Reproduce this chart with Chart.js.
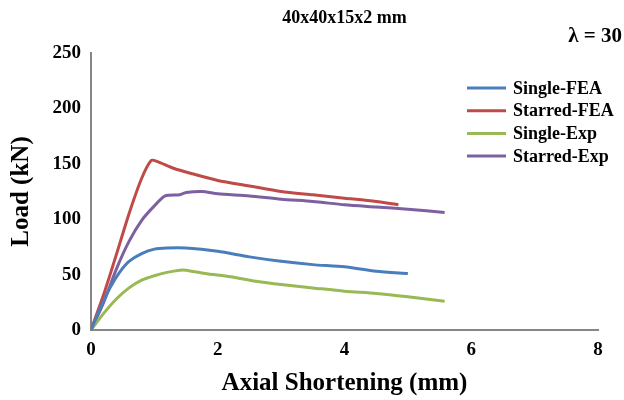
<!DOCTYPE html>
<html><head><meta charset="utf-8">
<script src="https://cdn.jsdelivr.net/npm/chart.js@4.4.0/dist/chart.umd.min.js"></script>
<style>html,body{margin:0;padding:0;background:#fff;}#wrap{width:624px;height:400px;}</style>
</head><body><div id="wrap"><canvas id="c" width="624" height="400"></canvas></div>
<script>
const seriesNames = ["Single-FEA", "Starred-FEA", "Single-Exp", "Starred-Exp"];
const seriesColors = ["#4A7EBB", "#BE4B48", "#98B954", "#7D60A0"];

const singleFeaX = [0, 0.15, 0.3, 0.45, 0.6, 0.8, 1.0, 1.2, 1.5, 2.0, 2.5, 3.0, 3.5, 4.0, 4.5, 5.0];
const singleFeaY = [0, 20, 38, 52, 62, 69, 73, 74, 74, 71, 66, 62, 59, 57, 53, 51];

const starredFeaX = [0, 0.2, 0.4, 0.6, 0.8, 0.95, 1.05, 1.3, 1.6, 2.0, 2.5, 3.0, 3.5, 4.0, 4.5, 4.85];
const starredFeaY = [0, 32, 68, 105, 137, 153, 152, 146, 141, 135, 130, 125, 122, 119, 116, 113];

const singleExpX = [0, 0.2, 0.4, 0.6, 0.8, 1.0, 1.2, 1.4, 1.5, 1.8, 2.2, 2.6, 3.0, 3.5, 4.0, 4.5, 5.0, 5.58];
const singleExpY = [0, 15, 28, 38, 45, 49, 52, 54, 54, 51, 48, 44, 41, 38, 35, 33, 30, 26];

const starredExpX = [0, 0.2, 0.4, 0.6, 0.8, 1.0, 1.17, 1.4, 1.5, 1.75, 2.0, 2.5, 3.0, 3.5, 4.0, 4.5, 5.0, 5.58];
const starredExpY = [0, 25, 55, 80, 99, 112, 121, 122, 124, 125, 123, 121, 118, 116, 113, 111, 109, 106];

const xTicks = [0, 2, 4, 6, 8];
const yTicks = [0, 50, 100, 150, 200, 250];
const chartTitle = "40x40x15x2 mm";
const cornerLabel = "λ = 30";
const xTitle = "Axial Shortening (mm)";
const yTitle = "Load (kN)";

const xs = [singleFeaX, starredFeaX, singleExpX, starredExpX];
const ys = [singleFeaY, starredFeaY, singleExpY, starredExpY];

const FONT = "'Liberation Serif', 'Times New Roman', serif";

const datasets = seriesNames.map((n, i) => ({
  label: n,
  data: xs[i].map((x, j) => ({x: x, y: ys[i][j]})),
  borderColor: seriesColors[i],
  backgroundColor: seriesColors[i],
  borderWidth: 3,
  pointRadius: 0,
  tension: 0.25,
  fill: false
}));

const overlay = {
  id: 'overlay',
  afterDraw(chart) {
    const ctx = chart.ctx;
    const ca = chart.chartArea;
    ctx.save();
    ctx.fillStyle = '#000';
    ctx.font = 'bold 18px ' + FONT;
    ctx.textAlign = 'center';
    ctx.textBaseline = 'middle';
    ctx.fillText(chartTitle, (ca.left + ca.right) / 2, 18);
    ctx.textAlign = 'right';
    ctx.font = 'bold 21px ' + FONT;
    ctx.fillText(cornerLabel, 622, 37);
    // legend
    ctx.font = 'bold 18px ' + FONT;
    ctx.textAlign = 'left';
    chart.data.datasets.forEach((ds, i) => {
      const y = 88 + i * 22.7;
      ctx.strokeStyle = ds.borderColor;
      ctx.lineWidth = 3;
      ctx.beginPath();
      ctx.moveTo(467, y);
      ctx.lineTo(506, y);
      ctx.stroke();
      ctx.fillStyle = '#000';
      ctx.fillText(ds.label, 513, y + 1);
    });
    ctx.restore();
  }
};

new Chart(document.getElementById('c'), {
  type: 'line',
  data: { datasets: datasets },
  options: {
    responsive: false,
    animation: false,
    devicePixelRatio: 1,
    layout: { padding: { top: 53, right: 26, left: 0, bottom: 0 } },
    plugins: { legend: { display: false }, title: { display: false }, tooltip: { enabled: false } },
    scales: {
      x: {
        type: 'linear', min: 0, max: 8,
        afterBuildTicks: s => { s.ticks = xTicks.map(v => ({value: v})); },
        afterFit: s => { s.height = 70; },
        grid: { display: false, drawTicks: false },
        border: { display: true, color: '#868686', width: 2 },
        ticks: { color: '#000', padding: 9, font: { family: FONT, size: 19, weight: 'bold' } },
        title: { display: true, text: xTitle, color: '#000', padding: { top: 4, bottom: 1 }, font: { family: FONT, size: 25, weight: 'bold' } }
      },
      y: {
        type: 'linear', min: 0, max: 250,
        afterBuildTicks: s => { s.ticks = yTicks.map(v => ({value: v})); },
        afterFit: s => { s.width = 91; },
        grid: { display: false, drawTicks: false },
        border: { display: true, color: '#868686', width: 2 },
        ticks: { color: '#000', padding: 10, font: { family: FONT, size: 19, weight: 'bold' } },
        title: { display: true, text: yTitle, color: '#000', padding: { top: 7, bottom: 0 }, font: { family: FONT, size: 25, weight: 'bold' } }
      }
    }
  },
  plugins: [overlay]
});
</script>
</body></html>
